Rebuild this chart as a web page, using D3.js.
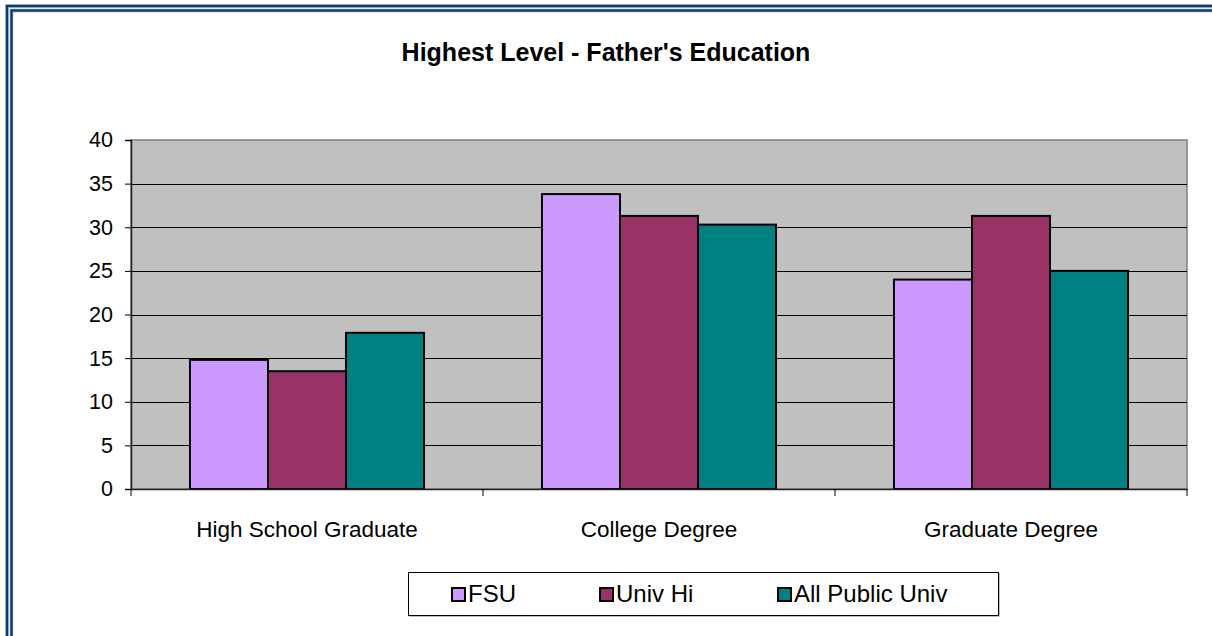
<!DOCTYPE html>
<html>
<head>
<meta charset="utf-8">
<script src="https://cdn.jsdelivr.net/npm/d3@7"></script>
<style>
  body { margin: 0; background: #fff; }
  svg { display: block; font-family: Arial, "Liberation Sans", sans-serif; }
</style>
</head>
<body>
<svg id="chart" width="1212" height="636"></svg>
<script>
// chart data
var categories = ["High School Graduate", "College Degree", "Graduate Degree"];
var seriesNames = ["FSU", "Univ Hi", "All Public Univ"];
var fsu = [14.8, 33.8, 24.0];
var univHi = [13.5, 31.3, 31.3];
var allPublic = [17.9, 30.3, 25.0];
var yTicks = [0, 5, 10, 15, 20, 25, 30, 35, 40];
var colors = ["#CC99FF", "#993366", "#008080"];

var seriesValues = [fsu, univHi, allPublic];

var svg = d3.select("#chart");

// double navy frame (cropped at right / bottom)
function frameLine(o){
  svg.append("rect").attr("x", o).attr("y", o - 1).attr("width", 1300).attr("height", 800)
    .attr("fill", "none").attr("stroke", "#8DA2BC").attr("stroke-width", 3.5);
  svg.append("rect").attr("x", o).attr("y", o - 1).attr("width", 1300).attr("height", 800)
    .attr("fill", "none").attr("stroke", "#0B3A6E").attr("stroke-width", 2.2);
}
frameLine(7);
frameLine(11.5);

// title
svg.append("text")
  .attr("x", 606).attr("y", 61)
  .attr("text-anchor", "middle")
  .style("font-weight", "bold").style("font-size", "25px")
  .text("Highest Level - Father's Education");

var plotL = 131, plotR = 1187, plotT = 140, plotB = 489;

var x0 = d3.scaleBand().domain(categories).range([plotL, plotR]).padding(0);
var x1 = d3.scaleBand().domain(seriesNames).range([0, x0.bandwidth()])
  .paddingInner(0).paddingOuter(0.756);
var y = d3.scaleLinear().domain([0, 40]).range([plotB, plotT]);

// plot area
svg.append("rect").attr("x", plotL).attr("y", plotT)
  .attr("width", plotR - plotL).attr("height", plotB - plotT)
  .attr("fill", "#C0C0C0").attr("stroke", "#808080").attr("stroke-width", 1.5);

// gridlines
svg.append("g").selectAll("line")
  .data(yTicks.filter(function(d){ return d > 0 && d < 40; }))
  .enter().append("line")
  .attr("x1", plotL).attr("x2", plotR)
  .attr("y1", function(d){ return Math.round(y(d)) + 0.5; })
  .attr("y2", function(d){ return Math.round(y(d)) + 0.5; })
  .attr("stroke", "#000").attr("stroke-width", 1);

// bars
var groups = svg.append("g").selectAll("g")
  .data(categories)
  .enter().append("g")
  .attr("transform", function(d){ return "translate(" + x0(d) + ",0)"; });

groups.selectAll("rect")
  .data(function(d, i){
    return seriesNames.map(function(s, j){ return {s: s, v: seriesValues[j][i], c: colors[j]}; });
  })
  .enter().append("rect")
  .attr("x", function(d){ return x1(d.s); })
  .attr("y", function(d){ return y(d.v); })
  .attr("width", x1.bandwidth())
  .attr("height", function(d){ return y(0) - y(d.v); })
  .attr("fill", function(d){ return d.c; })
  .attr("stroke", "#000").attr("stroke-width", 2);

// y axis
var yAxis = d3.axisLeft(y).tickValues(yTicks).tickSize(6).tickPadding(12);
var gy = svg.append("g").attr("transform", "translate(" + plotL + ",0)").call(yAxis);
gy.select(".domain").attr("stroke", "#222").attr("stroke-width", 1.5);
gy.selectAll("text").style("font-size", "21.5px").attr("fill", "#000");

// x axis
var xAxis = d3.axisBottom(x0).tickSize(0).tickPadding(32);
var gx = svg.append("g").attr("transform", "translate(0," + plotB + ")").call(xAxis);
gx.select(".domain").attr("stroke", "#222").attr("stroke-width", 1.5);
gx.selectAll("text").style("font-size", "22.5px").attr("fill", "#000");
// boundary ticks between categories
gx.selectAll(".bound").data([plotL, x0(categories[1]), x0(categories[2]), plotR])
  .enter().append("line").attr("class", "bound")
  .attr("x1", function(d){ return d; }).attr("x2", function(d){ return d; })
  .attr("y1", 0).attr("y2", 7).attr("stroke", "#000");

// legend
var legX = 408, legY = 572, legW = 590, legH = 43;
svg.append("rect").attr("x", legX + 1.5).attr("y", legY + 1.5)
  .attr("width", legW).attr("height", legH).attr("fill", "#808080");
svg.append("rect").attr("x", legX + 0.5).attr("y", legY + 0.5)
  .attr("width", legW).attr("height", legH)
  .attr("fill", "#fff").attr("stroke", "#000").attr("stroke-width", 1);

var legOffsets = [44, 192, 370];
var items = svg.append("g").selectAll("g")
  .data(seriesNames).enter().append("g")
  .attr("transform", function(d, i){ return "translate(" + (legX + legOffsets[i]) + "," + (legY + 16) + ")"; });
items.append("rect").attr("x", 0).attr("y", 0).attr("width", 13).attr("height", 13)
  .attr("fill", function(d, i){ return colors[i]; })
  .attr("stroke", "#000").attr("stroke-width", 2);
items.append("text").attr("x", 16).attr("y", 14)
  .style("font-size", "24px")
  .text(function(d){ return d; });
</script>
</body>
</html>
